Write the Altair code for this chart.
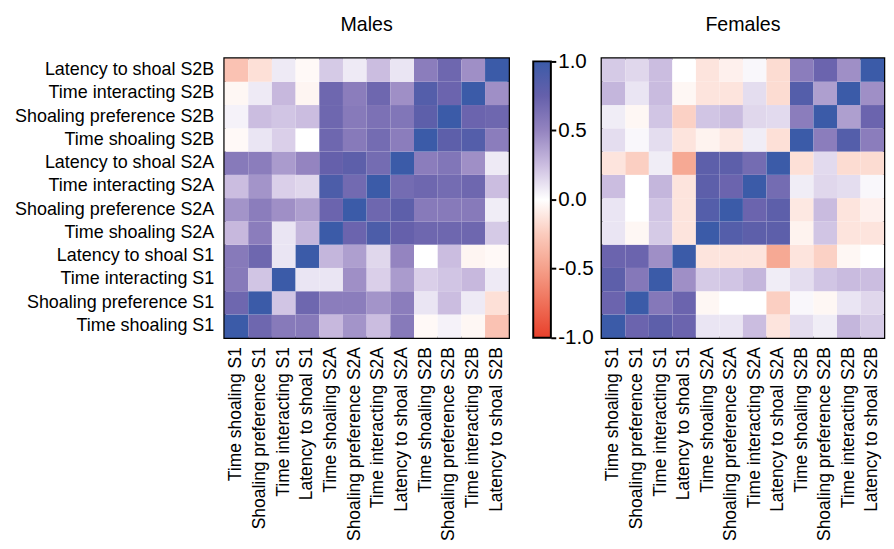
import altair as alt
import pandas as pd

FONT = "Liberation Sans"

variables = [
    "Time shoaling S1", "Shoaling preference S1", "Time interacting S1", "Latency to shoal S1",
    "Time shoaling S2A", "Shoaling preference S2A", "Time interacting S2A", "Latency to shoal S2A",
    "Time shoaling S2B", "Shoaling preference S2B", "Time interacting S2B", "Latency to shoal S2B",
]

# correlation matrices, rows/cols in the order of `variables`
males_r = [
    [1.00, 0.70, 0.57, 0.57, 0.27, 0.43, 0.25, 0.57, -0.03, 0.05, -0.04, -0.30],
    [0.70, 1.00, 0.22, 0.70, 0.55, 0.55, 0.43, 0.55, 0.10, 0.25, 0.08, -0.15],
    [0.57, 0.22, 1.00, 0.10, 0.10, 0.45, 0.18, 0.40, 0.18, 0.22, 0.27, 0.08],
    [0.57, 0.70, 0.10, 1.00, 0.28, 0.38, 0.15, 0.50, 0.00, 0.25, -0.05, -0.03],
    [0.27, 0.55, 0.10, 0.28, 1.00, 0.72, 0.90, 0.75, 0.70, 0.70, 0.70, 0.20],
    [0.43, 0.55, 0.45, 0.38, 0.72, 1.00, 0.70, 0.80, 0.57, 0.57, 0.57, 0.07],
    [0.25, 0.43, 0.18, 0.15, 0.90, 0.68, 1.00, 0.67, 0.70, 0.67, 0.70, 0.25],
    [0.57, 0.55, 0.40, 0.50, 0.75, 0.80, 0.67, 1.00, 0.55, 0.60, 0.45, 0.08],
    [-0.03, 0.10, 0.18, 0.00, 0.70, 0.57, 0.67, 0.55, 1.00, 0.80, 0.85, 0.55],
    [0.05, 0.25, 0.22, 0.25, 0.70, 0.57, 0.63, 0.60, 0.80, 1.00, 0.72, 0.70],
    [-0.04, 0.08, 0.27, -0.05, 0.70, 0.55, 0.70, 0.45, 0.85, 0.72, 1.00, 0.45],
    [-0.30, -0.15, 0.08, -0.03, 0.20, 0.08, 0.25, 0.10, 0.55, 0.70, 0.45, 1.00],
]

females_r = [
    [1.00, 0.72, 0.80, 0.72, 0.10, 0.10, 0.25, -0.13, 0.13, 0.07, 0.28, 0.20],
    [0.72, 1.00, 0.58, 0.72, -0.04, 0.00, 0.00, -0.23, 0.03, -0.04, 0.10, 0.15],
    [0.80, 0.58, 1.00, 0.45, 0.20, 0.22, 0.28, 0.07, 0.13, 0.22, 0.26, 0.25],
    [0.72, 0.72, 0.45, 1.00, -0.13, -0.13, -0.13, -0.45, -0.13, -0.22, -0.04, 0.00],
    [0.10, -0.04, 0.20, -0.13, 1.00, 0.85, 0.80, 0.80, -0.06, 0.22, -0.13, -0.13],
    [0.10, 0.00, 0.22, -0.13, 0.85, 1.00, 0.72, 0.80, -0.11, 0.26, -0.13, -0.07],
    [0.25, 0.00, 0.28, -0.13, 0.80, 0.72, 1.00, 0.67, 0.07, 0.15, 0.13, 0.03],
    [-0.13, -0.23, 0.07, -0.45, 0.80, 0.80, 0.67, 1.00, -0.15, 0.14, -0.17, -0.17],
    [0.13, 0.03, 0.13, -0.13, -0.06, -0.11, 0.07, -0.15, 1.00, 0.55, 0.85, 0.55],
    [0.07, -0.04, 0.22, -0.22, 0.22, 0.26, 0.15, 0.14, 0.55, 1.00, 0.38, 0.72],
    [0.28, 0.10, 0.26, -0.04, -0.13, -0.13, 0.13, -0.17, 0.85, 0.38, 1.00, 0.45],
    [0.20, 0.15, 0.25, 0.00, -0.13, -0.07, 0.03, -0.17, 0.55, 0.72, 0.45, 1.00],
]

stop_values = [-1.0, -0.75, -0.5, -0.25, 0.0, 0.25, 0.5, 0.75, 1.0]
stop_colors = ["#e8402b", "#ef7059", "#f5a08a", "#fbcbbd", "#ffffff",
               "#cbbde0", "#9484c0", "#6560ab", "#3b5ba8"]
bar_ticks = [-1.0, -0.5, 0.0, 0.5, 1.0]
bar_ends = [1.0, -1.0]


def to_long(mat):
    rows = []
    for i, rv in enumerate(variables):
        for j, cv in enumerate(variables):
            rows.append({"row": rv, "col": cv, "r": mat[i][j]})
    return pd.DataFrame(rows)


color_scale = alt.Scale(domain=stop_values, range=stop_colors, interpolate="rgb")


def heatmap(mat, title, show_y, width):
    y_axis = alt.Axis(title=None, labelFontSize=18.3, labelFont=FONT, labelColor="black",
                      ticks=False, domain=False, labelPadding=11, labelLimit=400) if show_y else None
    return alt.Chart(to_long(mat)).mark_rect(strokeWidth=0).encode(
        x=alt.X("col:N", sort=variables,
                axis=alt.Axis(title=None, labelAngle=-90, labelFontSize=17.8, labelFont=FONT,
                              labelColor="black", ticks=False, domain=False, labelPadding=9,
                              labelLimit=400)),
        y=alt.Y("row:N", sort=variables[::-1], axis=y_axis),
        color=alt.Color("r:Q", scale=color_scale, legend=None),
    ).properties(
        width=width, height=285,
        title=alt.TitleParams(title, fontSize=20, fontWeight="normal", font=FONT,
                              color="black", offset=24, frame="group"),
        view=alt.ViewBackground(stroke="black", strokeWidth=2.5),
    )


gradient = alt.LinearGradient(
    gradient="linear",
    stops=[alt.GradientStop(color=c, offset=(v + 1) / 2) for v, c in zip(stop_values, stop_colors)],
    x1=0, x2=0, y1=1, y2=0,
)

bar_df = pd.DataFrame({"top": [bar_ends[0]], "bottom": [bar_ends[1]]})
colorbar = alt.Chart(bar_df).mark_rect(fill=gradient, stroke="black", strokeWidth=2).encode(
    x=alt.value(0), x2=alt.value(18),
    y=alt.Y("top:Q", scale=alt.Scale(domain=[-1.0, 1.021], nice=False, zero=False),
            axis=alt.Axis(orient="right", values=bar_ticks, title=None, grid=False, domain=False,
                          tickSize=5, tickWidth=2, tickColor="black", offset=-27,
                          labelFontSize=21, labelFont=FONT, labelColor="black", labelPadding=2,
                          labelExpr="datum.value < 0 ? '-' + format(-datum.value, '.1f') : format(datum.value, '.1f')")),
    y2="bottom:Q",
).properties(width=45, height=285)

chart = alt.hconcat(
    heatmap(males_r, "Males", True, 290),
    colorbar,
    heatmap(females_r, "Females", False, 288),
    spacing=25, bounds="flush",
).properties(
    padding={"left": 5, "top": 0, "right": 0, "bottom": 0},
).configure_view(stroke=None)

chart.save("out.html", embed_options={"renderer": "svg", "actions": False})
